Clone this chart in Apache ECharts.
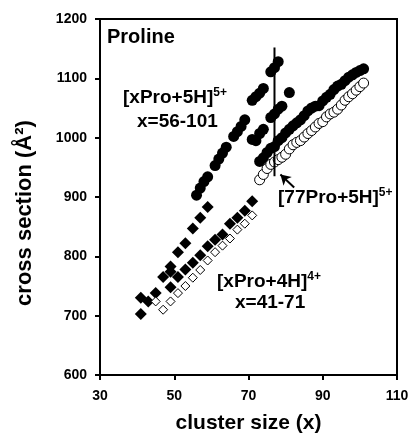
<!DOCTYPE html>
<html>
<head>
<meta charset="utf-8">
<script src="https://cdn.jsdelivr.net/npm/echarts@6/dist/echarts.min.js"></script>
<style>html,body{margin:0;padding:0;background:#fff;}#c{width:413px;height:441px;}</style>
</head>
<body>
<div id="c"></div>
<script>
// Axis ticks
const xTicks = [30, 50, 70, 90, 110];
const yTicks = [600, 700, 800, 900, 1000, 1100, 1200];

// [xPro+4H]4+ filled diamonds
const fdX = [41,41,43,45,47,49,49,49,51,51,53,53,55,55,57,57,59,59,61,63,65,67,69,71];
const fdY = [703,730,724,738,765,748,774,783,765,807,778,822,789,847,802,865,817,883,828,837,855,865,877,893];
// [xPro+4H]4+ open diamonds
const odX = [45,47,49,51,53,55,57,59,61,63,65,67,69,71];
const odY = [724,710,724,738,750,764,777,793,807,818,830,845,855,869];

// [xPro+5H]5+ filled circles
const fcX = [56,57,58,59,61,62,63,64,66,67,68,69,71,72,73,74,76,77,78,
             71,72,73,74,76,77,78,79,81,
             73,74,75,76,77,78,79,80,81,82,83,84,85,86,87,88,89,90,91,92,93,94,95,96,97,98,99,100,101];
const fcY = [903,915,926,934,953,964,974,984,1002,1010,1019,1030,1063,1069,1075,1083,1111,1118,1128,
             997,995,1007,1014,1034,1040,1048,1053,1076,
             960,966,975,982,985,995,1000,1008,1014,1020,1025,1030,1037,1045,1050,1053,1054,1062,1068,1073,1081,1087,1090,1096,1102,1106,1110,1113,1116];
// [xPro+5H]5+ open circles
const ocX = [73,74,75,76,77,78,79,80,81,82,83,84,85,86,87,88,89,90,91,92,93,94,95,96,97,98,99,100,101];
const ocY = [929,938,948,955,959,963,967,972,981,988,992,995,1001,1007,1012,1018,1024,1027,1035,1040,1043,1048,1055,1063,1069,1074,1080,1086,1092];

// Annotation: vertical line at x=77 and arrow
const vLineX = [77, 77];
const vLineY = [935, 1152];
const arrowX = [82.3, 78.6];
const arrowY = [916, 938];

const zip = (xs, ys) => xs.map((x, i) => [x, ys[i]]);
const FONT = 'Liberation Sans, Arial, Helvetica, sans-serif';

const chart = echarts.init(document.getElementById('c'), null, {renderer: 'canvas'});
chart.setOption({
  animation: false,
  backgroundColor: '#fff',
  grid: {left: 100, right: 16, top: 19, bottom: 66, show: true, borderColor: '#000', borderWidth: 2,
         containLabel: false, outerBoundsMode: 'none'},
  xAxis: {
    type: 'value', min: xTicks[0], max: xTicks[xTicks.length - 1], interval: 20,
    name: 'cluster size (x)', nameLocation: 'middle', nameGap: 38,
    nameTextStyle: {fontFamily: FONT, fontWeight: 'bold', fontSize: 21, color: '#000'},
    axisLine: {show: true, lineStyle: {color: '#000', width: 2}},
    axisTick: {show: true, length: 5, lineStyle: {color: '#000', width: 2}},
    axisLabel: {fontFamily: FONT, fontWeight: 'bold', fontSize: 14, color: '#000', margin: 14,
                formatter: v => String(v)},
    splitLine: {show: false}
  },
  yAxis: {
    type: 'value', min: yTicks[0], max: yTicks[yTicks.length - 1], interval: 100,
    axisLine: {show: true, lineStyle: {color: '#000', width: 2}},
    axisTick: {show: true, length: 5, lineStyle: {color: '#000', width: 2}},
    axisLabel: {fontFamily: FONT, fontWeight: 'bold', fontSize: 14, color: '#000', margin: 13,
                formatter: v => String(v)},
    splitLine: {show: false}
  },
  series: [
    {type: 'scatter', data: zip(fdX, fdY), symbol: 'diamond', symbolSize: 12,
     itemStyle: {color: '#000', opacity: 1}},
    {type: 'scatter', data: zip(odX, odY), symbol: 'diamond', symbolSize: 9,
     itemStyle: {color: '#fff', borderColor: '#000', borderWidth: 1, opacity: 1}},
    {type: 'scatter', data: zip(fcX, fcY), symbol: 'circle', symbolSize: 11,
     itemStyle: {color: '#000', opacity: 1}},
    {type: 'scatter', data: zip(ocX, ocY), symbol: 'circle', symbolSize: 10,
     itemStyle: {color: '#fff', borderColor: '#000', borderWidth: 1, opacity: 1}},
    {type: 'line', data: zip(vLineX, vLineY), symbol: 'none', z: 5,
     lineStyle: {color: '#000', width: 2},
     markLine: {silent: true, symbol: ['none', 'arrow'], symbolSize: [9, 10], animation: false,
       label: {show: false},
       lineStyle: {color: '#000', width: 2, type: 'solid'},
       data: [[{coord: [arrowX[0], arrowY[0]]}, {coord: [arrowX[1], arrowY[1]]}]]}}
  ],
  graphic: [
    {type: 'text', x: 25, y: 213, rotation: Math.PI / 2, style: {
      text: 'cross section (Å²)', font: 'bold 22px ' + FONT, fill: '#000', align: 'center', verticalAlign: 'middle'}},
    {type: 'text', left: 107, top: 27, style: {text: 'Proline', font: 'bold 20px ' + FONT, fill: '#000'}},
    {type: 'text', left: 123, top: 87, style: {
      text: '{m|[xPro+5H]}{s|5+}', fill: '#000',
      rich: {m: {font: 'bold 19px ' + FONT, lineHeight: 22}, s: {font: 'bold 12px ' + FONT, verticalAlign: 'top', lineHeight: 22}}}},
    {type: 'text', left: 137, top: 112, style: {text: 'x=56-101', font: 'bold 19px ' + FONT, fill: '#000'}},
    {type: 'text', left: 278, top: 187, style: {
      text: '{m|[77Pro+5H]}{s|5+}', fill: '#000',
      rich: {m: {font: 'bold 19px ' + FONT, lineHeight: 22}, s: {font: 'bold 12px ' + FONT, verticalAlign: 'top', lineHeight: 22}}}},
    {type: 'text', left: 217, top: 271, style: {
      text: '{m|[xPro+4H]}{s|4+}', fill: '#000',
      rich: {m: {font: 'bold 19px ' + FONT, lineHeight: 22}, s: {font: 'bold 12px ' + FONT, verticalAlign: 'top', lineHeight: 22}}}},
    {type: 'text', left: 235, top: 293, style: {text: 'x=41-71', font: 'bold 19px ' + FONT, fill: '#000'}}
  ]
});
</script>
</body>
</html>
